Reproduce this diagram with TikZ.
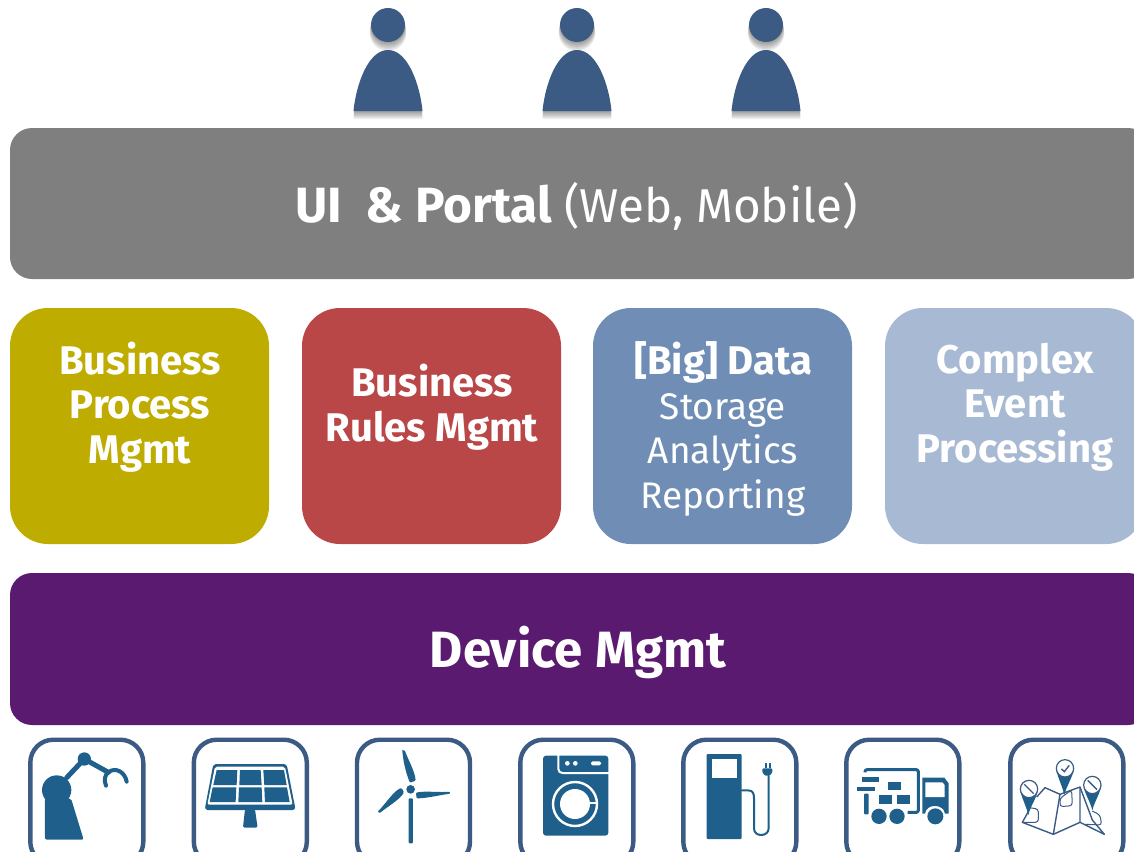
\documentclass[tikz,border=0pt]{standalone}
\usepackage{fontspec}
\setmainfont{Fira Sans}
\definecolor{cgrey}{HTML}{7F7F7F}
\definecolor{colive}{HTML}{BFAC00}
\definecolor{cred}{HTML}{B94747}
\definecolor{cblue}{HTML}{6F8DB5}
\definecolor{clight}{HTML}{A7B9D3}
\definecolor{cpurple}{HTML}{5A1A70}
\definecolor{cframe}{HTML}{3B5B85}
\definecolor{cicon}{HTML}{1F5F8B}
\definecolor{cperson}{HTML}{3B5B85}
\tikzset{
  band/.style={fill=#1,draw=none,rounded corners=22pt},
  tile/.style={fill=#1,draw=none,rounded corners=38pt},
  lbl/.style={text=white,align=center,inner sep=0pt},
  frm/.style={draw=cframe,line width=4.4pt,fill=white,rounded corners=23pt},
  ico/.style={fill=cicon,draw=none},
  iline/.style={draw=cicon,line cap=round,line join=round},
  wline/.style={draw=white,line cap=round,line join=round},
  zoomed/.style={x=0.3333pt,y=-0.3333pt},
}
\newcommand{\lh}[1]{\fontsize{#1}{44.7pt}\selectfont}
\newcommand{\personfig}[1]{%
  \begin{scope}[shift={(#1,0)}]
    \foreach \d in {1,2,3,4,5,6,7,8}{
      \fill[black,opacity=0.055] (0,25+\d) circle[radius=17+\d/6];
      \fill[black,opacity=0.055] (-34.5,111+\d) .. controls (-32,85+\d) and (-20,50+\d) .. (0,50+\d) .. controls (20,50+\d) and (32,85+\d) .. (34.5,111+\d) -- cycle;
    }
    \fill[cperson] (0,25) circle[radius=17];
    \fill[cperson] (-34.5,111) .. controls (-32,85) and (-20,50) .. (0,50) .. controls (20,50) and (32,85) .. (34.5,111) -- cycle;
  \end{scope}}
\newcommand{\frameat}[1]{\draw[frm] (#1+5.3,739.7) rectangle ++(113,125);}
\begin{document}
\begin{tikzpicture}[x=1pt,y=-1pt]
\useasboundingbox (0,0) rectangle (1134,851);
\clip (0,0) rectangle (1134,851);
\personfig{388}\personfig{577}\personfig{766}
% bands
\fill[band=cgrey] (10,128) rectangle (1150,279);
\fill[band=cpurple] (10,573) rectangle (1150,725);
\node[lbl] (ui) at (576.5,206) {\fontsize{49.5}{50}\selectfont\textbf{UI\ \ \& Portal}\fontsize{47.5}{50}\selectfont{} (Web, Mobile)};
\node[lbl,font=\fontsize{51}{52}\selectfont\bfseries] (dev) at (578,652) {Device Mgmt};
% tiles
\fill[tile=colive] (10,308) rectangle (269,544);
\fill[tile=cred] (302,308) rectangle (561,544);
\fill[tile=cblue] (593,308) rectangle (852,544);
\fill[tile=clight] (885,308) rectangle (1144,544);
\node[lbl,font=\lh{40}\bfseries] (bpm) at (140,407) {Business\\Process\\Mgmt};
\node[lbl,font=\lh{40}\bfseries] (brm) at (432,407) {Business\\Rules Mgmt};
\node[lbl,font=\lh{37}] (data) at (723,429) {{\lh{40}\textbf{[Big] Data}}\\Storage\\Analytics\\Reporting};
\node[lbl,font=\lh{40}\bfseries] (cep) at (1015,407) {Complex\\Event\\Processing};
% icon frames
\frameat{25}\frameat{188.5}\frameat{351.7}\frameat{515}\frameat{678}\frameat{841}\frameat{1005}
% robot
\begin{scope}[shift={(25,735)},zoomed]
  \fill[ico] (95,165) circle[radius=44];
  \fill[ico,rounded corners=2pt] (60,190) -- (60,314) -- (176,314) -- (138,190) -- cycle;
  \draw[iline,line width=5pt] (125,128) -- (178,72) -- (250,112);
  \fill[ico] (178,72) circle[radius=20];
  \draw[iline,line width=4pt] (243,152) .. controls (236,135) and (240,118) .. (250,112) .. controls (270,95) and (300,110) .. (305,140);
\end{scope}
% solar panel
\begin{scope}[shift={(0,730)},zoomed]
  \fill[ico,rounded corners=3pt] (640,102) -- (860,102) -- (887,240) -- (614,240) -- cycle;
  \fill[white,rounded corners=2pt] (645,110) -- (855,110) -- (878,224) -- (622,224) -- cycle;
  \fill[ico] (650,120) -- (712,120) -- (710,165) -- (640,165) -- cycle;
  \fill[ico] (720,120) -- (782,120) -- (785,165) -- (718,165) -- cycle;
  \fill[ico] (790,120) -- (852,120) -- (860,165) -- (793,165) -- cycle;
  \fill[ico] (638,172) -- (709,172) -- (707,216) -- (629,216) -- cycle;
  \fill[ico] (717,172) -- (785,172) -- (787,216) -- (715,216) -- cycle;
  \fill[ico] (793,172) -- (861,172) -- (869,216) -- (795,216) -- cycle;
  \fill[ico,rounded corners=1.5pt] (735,238) -- (765,238) -- (773,293) -- (729,293) -- cycle;
\end{scope}
% wind turbine
\begin{scope}[shift={(0,730)},zoomed]
  \fill[ico] (1232,178) circle[radius=13];
  \fill[ico,rounded corners=1pt] (1226,205) rectangle (1239,340);
  \fill[ico,rounded corners=1pt] (1207,62) -- (1214,60) .. controls (1225,90) and (1245,125) .. (1247,152) -- (1230,158) .. controls (1218,130) and (1210,95) .. cycle;
  \fill[ico,rounded corners=1pt] (1134,245) -- (1138,250) .. controls (1160,232) and (1195,212) .. (1212,188) -- (1205,174) .. controls (1185,180) and (1165,210) .. cycle;
  \fill[ico,rounded corners=1pt] (1248,188) .. controls (1275,182) and (1320,188) .. (1350,185) -- (1351,191) .. controls (1320,195) and (1280,205) .. (1250,205) -- cycle;
\end{scope}
% washing machine
\begin{scope}[shift={(515,735)},zoomed]
  \fill[ico,rounded corners=3pt] (84,62) rectangle (280,302);
  \draw[wline,line width=2pt,line cap=butt,rounded corners=4pt] (130,60) -- (130,114) -- (282,114);
  \fill[white] (157,85) circle[radius=7];
  \fill[white] (181,85) circle[radius=7];
  \fill[white,rounded corners=1.5pt] (228,79) rectangle (258,91);
  \draw[wline,line width=2.4pt] (180,207) circle[radius=66];
  \fill[white] (180,207) circle[radius=45];
  \fill[white] (220,201) rectangle (248,208);
\end{scope}
% fuel pump
\begin{scope}[shift={(678,735)},zoomed]
  \fill[ico,rounded corners=1pt] (86,57) rectangle (191,312);
  \fill[white] (101,72) rectangle (177,130);
  \draw[iline,line width=2pt] (191,166) -- (210,166) .. controls (226,166) and (228,178) .. (228,190) -- (228,280) .. controls (228,295) and (240,300) .. (250,300) .. controls (262,300) and (272,292) .. (272,280) -- (272,122);
  \fill[ico,rounded corners=1pt] (253,100) -- (283,100) -- (283,112) -- (275,122) -- (261,122) -- (253,112) -- cycle;
  \fill[ico] (260,84) rectangle (266,100);
  \fill[ico] (272,84) rectangle (278,100);
\end{scope}
% truck
\begin{scope}[shift={(841,735)},zoomed]
  \draw[iline,line width=3pt,line cap=butt,rounded corners=2pt] (72,112) -- (72,104) -- (232,104) -- (232,232) -- (200,232);
  \fill[ico] (62,127) rectangle (115,140);
  \fill[ico] (47,155) rectangle (102,167);
  \fill[ico,rounded corners=1pt] (69,176) rectangle (83,238);
  \fill[ico] (141,140) rectangle (181,165);
  \fill[ico] (115,181) rectangle (154,207);
  \fill[ico] (168,181) rectangle (208,207);
  \fill[ico] (114,244) circle[radius=23];
  \fill[ico] (168,244) circle[radius=23];
  \fill[ico] (283,244) circle[radius=24];
  \fill[ico] (244,128) -- (310,128) -- (323,145) -- (323,236) -- (312,236) .. controls (308,205) and (255,205) .. (252,236) -- (244,236) -- cycle;
  \fill[white] (253,142) -- (304,142) -- (311,150) -- (311,186) -- (253,186) -- cycle;
\end{scope}
% map
\begin{scope}[shift={(1005,735)},zoomed]
  \draw[draw=cframe,line width=1.4pt,line join=round]
    (95,186) -- (120,158) -- (165,178) -- (225,156) -- (262,255) -- (298,298) -- (225,262) -- (145,298) -- (52,262) -- (70,230);
  \draw[draw=cframe,line width=1.4pt] (165,178) -- (145,298) (225,156) -- (225,262);
  \draw[draw=cframe,line width=1pt,rounded corners=3pt] (72,218) -- (100,222) -- (100,262) -- (55,262)  (165,190) -- (200,165) -- (202,212) -- (165,215) -- cycle (262,228) -- (285,240) -- (290,270) -- (240,268);
  \foreach \cx/\cy/\tx/\ty in {72/162/70/240, 180/100/178/180, 262/150/262/226}{
    \fill[ico] (\cx-26,\cy+8) .. controls (\cx-18,\cy+35) and (\tx-6,\ty-25) .. (\tx,\ty) .. controls (\tx+6,\ty-25) and (\cx+18,\cy+35) .. (\cx+26,\cy+8) -- cycle;
    \draw[draw=cframe,fill=white,line width=1.2pt] (\cx,\cy) circle[radius=26];
  }
  \draw[draw=cframe,line width=1.4pt] (58,148) -- (86,176) (248,136) -- (276,164);
  \draw[draw=cframe,line width=1.4pt,line cap=round] (170,102) -- (178,110) -- (192,92);
\end{scope}
\end{tikzpicture}
\end{document}
